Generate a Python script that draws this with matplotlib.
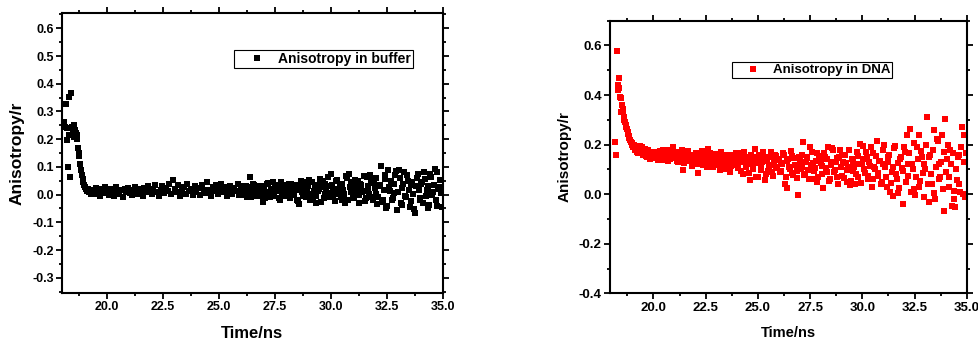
import matplotlib
matplotlib.use('Agg')
import matplotlib.pyplot as plt
from matplotlib.ticker import MultipleLocator, FormatStrFormatter

plt.rcParams['font.family'] = ['Liberation Sans', 'DejaVu Sans']
plt.rcParams['font.weight'] = 'bold'
plt.rcParams['axes.unicode_minus'] = False

# anisotropy decay in buffer (time in ns, r)
t_buffer = [
    18.10, 18.13, 18.17, 18.21, 18.24, 18.27, 18.30, 18.33, 18.36, 18.39,
    18.42, 18.45, 18.48, 18.52, 18.55, 18.58, 18.62, 18.65, 18.68, 18.72,
    18.75, 18.78, 18.82, 18.85, 18.88, 18.92, 18.96, 19.00, 19.04, 19.08,
    19.12, 19.16, 19.20, 19.25, 19.30,
    19.36, 19.44, 19.52, 19.60, 19.68, 19.76, 19.84, 19.92, 20.00,
    20.08, 20.16, 20.24, 20.32, 20.40, 20.48, 20.56, 20.64, 20.72, 20.80, 20.88, 20.96,
    21.04, 21.12, 21.20, 21.28, 21.36, 21.44, 21.52, 21.60, 21.68, 21.76, 21.84, 21.92,
    22.00, 22.08, 22.16, 22.24, 22.32, 22.40, 22.48, 22.56, 22.64, 22.72, 22.80, 22.88, 22.96,
    23.04, 23.12, 23.20, 23.28, 23.36, 23.44, 23.52, 23.60, 23.68, 23.76, 23.84, 23.92,
    24.00, 24.08, 24.16, 24.24, 24.32, 24.40, 24.48, 24.56, 24.64, 24.72, 24.80, 24.88, 24.96,
    25.04, 25.12, 25.20, 25.28, 25.36, 25.44, 25.52, 25.60, 25.68, 25.76, 25.84, 25.92,
    26.00, 26.08, 26.16, 26.24, 26.32, 26.40, 26.48, 26.56, 26.64, 26.72, 26.80, 26.88, 26.96,
    27.04, 27.12, 27.20, 27.28, 27.36, 27.44, 27.52, 27.60, 27.68, 27.76, 27.84, 27.92,
    28.00, 28.08, 28.16, 28.24, 28.32, 28.40, 28.48, 28.56, 28.64, 28.72, 28.80, 28.88, 28.96,
    29.04, 29.12, 29.20, 29.28, 29.36, 29.44, 29.52, 29.60, 29.68, 29.76, 29.84, 29.92,
    30.00, 30.08, 30.16, 30.24, 30.32, 30.40, 30.48, 30.56, 30.64, 30.72, 30.80, 30.88, 30.96,
    31.04, 31.12, 31.20, 31.28, 31.36, 31.44, 31.52, 31.60, 31.68, 31.76, 31.84, 31.92,
    32.00, 32.08, 32.16, 32.24, 32.32, 32.40, 32.48, 32.56, 32.64, 32.72, 32.80, 32.88, 32.96,
    33.04, 33.12, 33.20, 33.28, 33.36, 33.44, 33.52, 33.60, 33.68, 33.76, 33.84, 33.92,
    34.00, 34.08, 34.16, 34.24, 34.32, 34.40, 34.48, 34.56, 34.64, 34.72, 34.80, 34.88, 34.96,
]
r_buffer = [
    0.262, 0.245, 0.328, 0.240, 0.196, 0.100, 0.215, 0.352, 0.064, 0.368,
    0.366, 0.244, 0.230, 0.208, 0.250, 0.232, 0.222, 0.215, 0.200, 0.170,
    0.150, 0.138, 0.110, 0.090, 0.072, 0.058, 0.046, 0.036, 0.028, 0.020,
    0.014, 0.022, 0.008, 0.012, 0.004,
    0.018, 0.002, 0.025, 0.010, -0.004, 0.020, 0.006, 0.028, 0.012,
    0.000, 0.022, 0.008, -0.006, 0.026, 0.014, 0.004, 0.018, -0.008, 0.020, 0.010, 0.024,
    0.006, -0.002, 0.016, 0.028, 0.004, 0.020, 0.012, -0.004, 0.024, 0.008, 0.030, 0.014,
    0.002, 0.022, 0.036, 0.010, -0.004, 0.018, 0.030, 0.006, 0.024, 0.014, 0.040, 0.002, 0.052,
    0.020, 0.008, 0.034, -0.006, 0.016, 0.026, 0.004, 0.038, 0.012, 0.022, -0.002, 0.030,
    0.010, 0.024, 0.000, 0.036, 0.016, 0.006, 0.044, 0.018, -0.004, 0.028, 0.012, 0.034, 0.002,
    0.022, 0.040, 0.008, 0.026, -0.006, 0.018, 0.032, 0.004, 0.024, 0.014, 0.038, 0.000,
    0.020, 0.030, 0.008, -0.008, 0.026, 0.062, 0.012, 0.036, -0.004, 0.018, 0.028, 0.002, -0.026,
    0.030, 0.010, 0.042, -0.010, 0.022, 0.004, 0.036, 0.016, -0.014, 0.046, 0.008, 0.026,
    -0.006, 0.034, 0.014, 0.040, 0.000, 0.022, -0.020, -0.035, 0.030, 0.010, 0.044, -0.008, 0.020,
    0.052, 0.004, -0.018, 0.036, -0.032, 0.014, 0.058, 0.026, -0.012, 0.040, 0.006, 0.030,
    0.076, -0.010, 0.022, 0.048, 0.002, 0.034, -0.020, 0.016, -0.032, 0.060, 0.076, 0.008, 0.040,
    -0.014, 0.028, 0.050, -0.002, 0.036, 0.014, -0.024, 0.062, 0.020, 0.072, -0.008, 0.042,
    0.004, -0.035, 0.030, 0.104, -0.018, 0.056, -0.050, 0.088, 0.012, -0.020, 0.040, 0.070, -0.056,
    0.088, -0.030, 0.024, 0.082, -0.010, 0.050, -0.046, 0.034, 0.004, -0.068, 0.060, 0.016,
    -0.020, 0.046, 0.082, -0.004, 0.030, -0.036, 0.064, 0.010, 0.094, -0.040, 0.020, 0.052, -0.045,
]
# second half-channel of the noisy tail in buffer
t_buffer_tail = [
    26.04, 26.12, 26.20, 26.28, 26.36, 26.44, 26.52, 26.60, 26.68, 26.76, 26.84, 26.92,
    27.00, 27.08, 27.16, 27.24, 27.32, 27.40, 27.48, 27.56, 27.64, 27.72, 27.80, 27.88, 27.96,
    28.04, 28.12, 28.20, 28.28, 28.36, 28.44, 28.52, 28.60, 28.68, 28.76, 28.84, 28.92,
    29.00, 29.08, 29.16, 29.24, 29.32, 29.40, 29.48, 29.56, 29.64, 29.72, 29.80, 29.88, 29.96,
    30.04, 30.12, 30.20, 30.28, 30.36, 30.44, 30.52, 30.60, 30.68, 30.76, 30.84, 30.92,
    31.00, 31.08, 31.16, 31.24, 31.32, 31.40, 31.48, 31.56, 31.64, 31.72, 31.80, 31.88, 31.96,
    32.04, 32.12, 32.20, 32.28, 32.36, 32.44, 32.52, 32.60, 32.68, 32.76, 32.84, 32.92,
    33.00, 33.08, 33.16, 33.24, 33.32, 33.40, 33.48, 33.56, 33.64, 33.72, 33.80, 33.88, 33.96,
    34.04, 34.12, 34.20, 34.28, 34.36, 34.44, 34.52, 34.60, 34.68, 34.76, 34.84, 34.92,
]
r_buffer_tail = [
    0.016, -0.002, 0.032, 0.010, 0.024, -0.010, 0.040, 0.006, 0.020, 0.030, -0.006, 0.014,
    0.024, -0.012, 0.038, 0.006, 0.018, 0.044, -0.004, 0.028, 0.012, -0.018, 0.034, 0.002, 0.020,
    0.010, 0.040, -0.014, 0.024, 0.004, 0.036, -0.024, 0.016, 0.048, -0.006, 0.026, 0.008,
    0.030, -0.020, 0.046, 0.012, -0.004, 0.034, 0.020, -0.026, 0.050, 0.002, 0.024, 0.062, -0.010,
    0.036, 0.010, -0.022, 0.052, 0.018, -0.008, 0.040, 0.004, 0.066, -0.018, 0.028, 0.046,
    -0.004, 0.054, 0.016, -0.030, 0.040, 0.008, 0.066, -0.014, 0.032, 0.002, 0.048, -0.020, 0.024,
    0.060, -0.008, 0.036, -0.026, 0.016, 0.070, -0.040, 0.028, 0.050, -0.012, 0.006, 0.084,
    0.010, 0.060, -0.038, 0.040, -0.004, 0.070, 0.018, -0.024, 0.046, -0.052, 0.030, 0.074, -0.012,
    0.040, -0.030, 0.056, 0.016, -0.050, 0.074, 0.000, 0.036, -0.020, 0.080, 0.026, 0.006,
]

# anisotropy decay in DNA (time in ns, r)
t_dna = [
    18.16, 18.20, 18.24, 18.28, 18.31, 18.34, 18.37, 18.40, 18.43, 18.46,
    18.49, 18.52, 18.55, 18.58, 18.61, 18.64, 18.67, 18.70, 18.73, 18.76,
    18.79, 18.82, 18.85, 18.88, 18.91, 18.95, 18.99, 19.03, 19.07, 19.11,
    19.15, 19.19, 19.23, 19.27, 19.31, 19.35, 19.39, 19.43, 19.47, 19.51,
    19.55, 19.59, 19.63, 19.67, 19.71, 19.75, 19.79, 19.83, 19.87, 19.91,
    19.95, 19.99,
    20.05, 20.13, 20.21, 20.29, 20.37, 20.45, 20.53, 20.61, 20.69, 20.77, 20.85, 20.93,
    21.01, 21.09, 21.17, 21.25, 21.33, 21.41, 21.49, 21.57, 21.65, 21.73, 21.81, 21.89, 21.97,
    22.05, 22.13, 22.21, 22.29, 22.37, 22.45, 22.53, 22.61, 22.69, 22.77, 22.85, 22.93,
    23.01, 23.09, 23.17, 23.25, 23.33, 23.41, 23.49, 23.57, 23.65, 23.73, 23.81, 23.89, 23.97,
    24.05, 24.13, 24.21, 24.29, 24.37, 24.45, 24.53, 24.61, 24.69, 24.77, 24.85, 24.93,
    25.01, 25.09, 25.17, 25.25, 25.33, 25.41, 25.49, 25.57, 25.65, 25.73, 25.81, 25.89, 25.97,
    26.05, 26.13, 26.21, 26.29, 26.37, 26.45, 26.53, 26.61, 26.69, 26.77, 26.85, 26.93,
    27.01, 27.09, 27.17, 27.25, 27.33, 27.41, 27.49, 27.57, 27.65, 27.73, 27.81, 27.89, 27.97,
    28.05, 28.13, 28.21, 28.29, 28.37, 28.45, 28.53, 28.61, 28.69, 28.77, 28.85, 28.93,
    29.01, 29.09, 29.17, 29.25, 29.33, 29.41, 29.49, 29.57, 29.65, 29.73, 29.81, 29.89, 29.97,
    30.05, 30.13, 30.21, 30.29, 30.37, 30.45, 30.53, 30.61, 30.69, 30.77, 30.85, 30.93,
    31.01, 31.09, 31.17, 31.25, 31.33, 31.41, 31.49, 31.57, 31.65, 31.73, 31.81, 31.89, 31.97,
    32.05, 32.13, 32.21, 32.29, 32.37, 32.45, 32.53, 32.61, 32.69, 32.77, 32.85, 32.93,
    33.01, 33.09, 33.17, 33.25, 33.33, 33.41, 33.49, 33.57, 33.65, 33.73, 33.81, 33.89, 33.97,
    34.05, 34.13, 34.21, 34.29, 34.37, 34.45, 34.53, 34.61, 34.69, 34.77, 34.85, 34.93,
]
r_dna = [
    0.211, 0.160, 0.576, 0.439, 0.420, 0.470, 0.428, 0.392, 0.330, 0.388,
    0.360, 0.345, 0.330, 0.312, 0.300, 0.290, 0.280, 0.270, 0.262, 0.252,
    0.244, 0.236, 0.226, 0.220, 0.212, 0.205, 0.198, 0.190, 0.200, 0.178,
    0.192, 0.172, 0.186, 0.168, 0.180, 0.196, 0.165, 0.176, 0.190, 0.160,
    0.172, 0.182, 0.155, 0.170, 0.150, 0.178, 0.162, 0.140, 0.172, 0.155,
    0.165, 0.145,
    0.158, 0.172, 0.138, 0.165, 0.150, 0.178, 0.142, 0.160, 0.135, 0.168, 0.152, 0.190,
    0.145, 0.162, 0.128, 0.170, 0.150, 0.098, 0.158, 0.140, 0.175, 0.132, 0.155, 0.120, 0.148,
    0.165, 0.084, 0.140, 0.158, 0.118, 0.172, 0.135, 0.184, 0.125, 0.150, 0.108, 0.162,
    0.130, 0.145, 0.098, 0.168, 0.120, 0.140, 0.112, 0.155, 0.090, 0.135, 0.160, 0.118, 0.145,
    0.105, 0.165, 0.128, 0.080, 0.150, 0.118, 0.150, 0.056, 0.138, 0.100, 0.184, 0.125,
    0.070, 0.145, 0.112, 0.170, 0.056, 0.132, 0.095, 0.150, 0.118, 0.075, 0.160, 0.105, 0.138,
    0.088, 0.125, 0.165, 0.043, 0.023, 0.140, 0.102, 0.155, 0.078, 0.118, 0.092, -0.004,
    0.135, 0.110, 0.211, 0.080, 0.150, 0.098, 0.190, 0.062, 0.125, 0.105, 0.168, 0.070, 0.140,
    0.115, 0.023, 0.150, 0.088, 0.190, 0.060, 0.128, 0.177, 0.098, 0.145, 0.040, 0.180,
    0.075, 0.130, 0.160, 0.050, 0.110, 0.036, 0.140, 0.092, 0.040, 0.172, 0.068, 0.201, 0.120,
    0.195, 0.085, 0.150, 0.060, 0.115, 0.027, 0.165, 0.100, 0.215, 0.072, 0.135, 0.050,
    0.180, 0.110, 0.030, 0.150, 0.009, 0.090, -0.008, 0.195, 0.060, 0.003, 0.140, 0.105, -0.040,
    0.170, 0.238, 0.075, 0.262, 0.120, 0.020, -0.004, 0.190, 0.238, 0.055, 0.150, -0.011,
    0.100, 0.311, -0.031, 0.160, 0.040, 0.258, -0.020, 0.224, 0.120, 0.070, 0.238, -0.067, 0.302,
    0.140, 0.070, 0.180, -0.048, 0.013, -0.050, 0.056, 0.160, 0.010, 0.271, 0.240, -0.010,
]
# second half-channel of the DNA tail
t_dna_tail = [
    20.09, 20.17, 20.25, 20.33, 20.41, 20.49, 20.57, 20.65, 20.73, 20.81, 20.89, 20.97,
    21.05, 21.13, 21.21, 21.29, 21.37, 21.45, 21.53, 21.61, 21.69, 21.77, 21.85, 21.93,
    22.01, 22.09, 22.17, 22.25, 22.33, 22.41, 22.49, 22.57, 22.65, 22.73, 22.81, 22.89, 22.97,
    23.05, 23.13, 23.21, 23.29, 23.37, 23.45, 23.53, 23.61, 23.69, 23.77, 23.85, 23.93,
    24.01, 24.09, 24.17, 24.25, 24.33, 24.41, 24.49, 24.57, 24.65, 24.73, 24.81, 24.89, 24.97,
    25.05, 25.13, 25.21, 25.29, 25.37, 25.45, 25.53, 25.61, 25.69, 25.77, 25.85, 25.93,
    26.01, 26.09, 26.17, 26.25, 26.33, 26.41, 26.49, 26.57, 26.65, 26.73, 26.81, 26.89, 26.97,
    27.05, 27.13, 27.21, 27.29, 27.37, 27.45, 27.53, 27.61, 27.69, 27.77, 27.85, 27.93,
    28.01, 28.09, 28.17, 28.25, 28.33, 28.41, 28.49, 28.57, 28.65, 28.73, 28.81, 28.89, 28.97,
    29.05, 29.13, 29.21, 29.29, 29.37, 29.45, 29.53, 29.61, 29.69, 29.77, 29.85, 29.93,
    30.01, 30.09, 30.17, 30.25, 30.33, 30.41, 30.49, 30.57, 30.65, 30.73, 30.81, 30.89, 30.97,
    31.05, 31.13, 31.21, 31.29, 31.37, 31.45, 31.53, 31.61, 31.69, 31.77, 31.85, 31.93,
    32.01, 32.09, 32.17, 32.25, 32.33, 32.41, 32.49, 32.57, 32.65, 32.73, 32.81, 32.89, 32.97,
    33.05, 33.13, 33.21, 33.29, 33.37, 33.45, 33.53, 33.61, 33.69, 33.77, 33.85, 33.93,
    34.01, 34.09, 34.17, 34.25, 34.33, 34.41, 34.49, 34.57, 34.65, 34.73, 34.81, 34.89, 34.97,
]
r_dna_tail = [
    0.150, 0.165, 0.142, 0.175, 0.155, 0.138, 0.168, 0.148, 0.180, 0.140, 0.162, 0.150,
    0.172, 0.135, 0.158, 0.146, 0.180, 0.125, 0.150, 0.165, 0.138, 0.158, 0.112, 0.150,
    0.140, 0.160, 0.122, 0.148, 0.176, 0.130, 0.155, 0.110, 0.142, 0.165, 0.125, 0.150, 0.135,
    0.155, 0.118, 0.170, 0.128, 0.145, 0.100, 0.160, 0.132, 0.115, 0.150, 0.125, 0.168,
    0.120, 0.150, 0.095, 0.135, 0.172, 0.110, 0.140, 0.085, 0.158, 0.122, 0.148, 0.068, 0.132,
    0.160, 0.098, 0.128, 0.150, 0.082, 0.142, 0.115, 0.170, 0.090, 0.130, 0.152, 0.108,
    0.140, 0.095, 0.122, 0.160, 0.070, 0.132, 0.110, 0.175, 0.085, 0.145, 0.118, 0.065, 0.150,
    0.100, 0.160, 0.078, 0.128, 0.145, 0.060, 0.118, 0.170, 0.092, 0.135, 0.050, 0.155,
    0.125, 0.080, 0.165, 0.105, 0.140, 0.055, 0.118, 0.185, 0.090, 0.130, 0.070, 0.150, 0.110,
    0.160, 0.065, 0.125, 0.098, 0.178, 0.052, 0.135, 0.110, 0.080, 0.155, 0.120, 0.045,
    0.140, 0.100, 0.170, 0.075, 0.128, 0.190, 0.060, 0.110, 0.155, 0.085, 0.135, 0.040, 0.120,
    0.200, 0.070, 0.130, 0.160, 0.045, 0.110, 0.185, 0.080, 0.125, 0.025, 0.150, 0.095,
    0.190, 0.050, 0.120, 0.165, 0.010, 0.100, 0.205, 0.070, 0.140, 0.030, 0.175, 0.085, 0.120,
    0.200, 0.040, 0.150, 0.080, 0.180, 0.005, 0.110, 0.215, 0.060, 0.130, 0.020, 0.170,
    0.090, 0.200, 0.030, 0.120, 0.165, -0.020, 0.100, 0.150, 0.040, 0.190, 0.000, 0.130, 0.165,
]

buffer_yticks = [-0.3, -0.2, -0.1, 0.0, 0.1, 0.2, 0.3, 0.4, 0.5, 0.6]
dna_yticks = [-0.4, -0.2, 0.0, 0.2, 0.4, 0.6]
time_ticks = [20.0, 22.5, 25.0, 27.5, 30.0, 32.5, 35.0]


def style_axes(ax, fontsize, yminor):
    for sp in ax.spines.values():
        sp.set_linewidth(1.5)
    ax.tick_params(which='both', direction='out', top=True, right=True, width=1.3,
                   labelsize=fontsize, pad=2)
    ax.tick_params(which='major', length=4)
    ax.tick_params(which='minor', length=2.5)
    ax.set_xticks(time_ticks)
    ax.xaxis.set_minor_locator(MultipleLocator(1.25))
    ax.yaxis.set_minor_locator(MultipleLocator(yminor))
    ax.xaxis.set_major_formatter(FormatStrFormatter('%.1f'))
    ax.yaxis.set_major_formatter(FormatStrFormatter('%.1f'))


fig = plt.figure(figsize=(9.79, 3.43), dpi=100)
ax1 = fig.add_axes([0.0633, 0.1458, 0.389, 0.816])
ax2 = fig.add_axes([0.6231, 0.1449, 0.3644, 0.7948])

ax1.plot(t_buffer, r_buffer, 's', color='black', ms=5, mew=0, label='Anisotropy in buffer')
ax1.plot(t_buffer_tail, r_buffer_tail, 's', color='black', ms=5, mew=0)
ax1.set_xlim(18, 35)
ax1.set_ylim(-0.355, 0.655)
ax1.set_yticks(buffer_yticks)
style_axes(ax1, 9, 0.05)
ax1.set_xlabel('Time/ns', fontsize=12, fontweight='bold')
ax1.set_ylabel('Anisotropy/r', fontsize=12.5, fontweight='bold')
ax1.xaxis.set_label_coords(0.5, -0.118)
ax1.yaxis.set_label_coords(-0.097, 0.5)
leg1 = ax1.legend(loc='upper left', bbox_to_anchor=(0.451, 0.868), borderaxespad=0,
                  fancybox=False, edgecolor='black', framealpha=1, handlelength=3.0,
                  handletextpad=0.05, borderpad=0.15, prop={'weight': 'bold', 'size': 10})
leg1.get_frame().set_linewidth(0.8)

ax2.plot(t_dna, r_dna, 's', color='#ff0000', ms=4.8, mew=0, label='Anisotropy in DNA')
ax2.plot(t_dna_tail, r_dna_tail, 's', color='#ff0000', ms=4.8, mew=0)
ax2.set_xlim(17.92, 35)
ax2.set_ylim(-0.4, 0.7)
ax2.set_yticks(dna_yticks)
style_axes(ax2, 9.5, 0.1)
ax2.set_xlabel('Time/ns', fontsize=10.5, fontweight='bold')
ax2.set_ylabel('Anisotropy/r', fontsize=11, fontweight='bold')
ax2.xaxis.set_label_coords(0.5, -0.12)
ax2.yaxis.set_label_coords(-0.107, 0.5)
leg2 = ax2.legend(loc='upper left', bbox_to_anchor=(0.342, 0.848), borderaxespad=0,
                  fancybox=False, edgecolor='black', framealpha=1, handlelength=2.9,
                  handletextpad=0.05, borderpad=0.15, prop={'weight': 'bold', 'size': 9.5})
leg2.get_frame().set_linewidth(0.8)

fig.savefig('out.png', dpi=100)
